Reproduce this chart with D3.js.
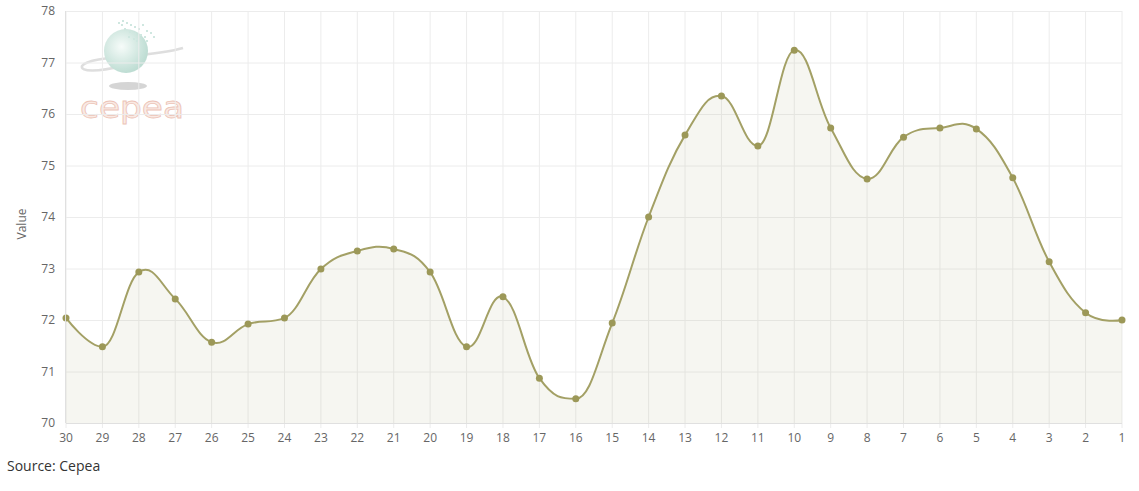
<!DOCTYPE html>
<html><head><meta charset="utf-8">
<script src="https://cdn.jsdelivr.net/npm/d3@7"></script>
<style>
html,body{margin:0;padding:0;background:#fff;}
svg{display:block;font-family:"Open Sans",sans-serif;}
</style></head>
<body>
<svg id="chart" width="1139" height="491"></svg>
<script>
const categories = ["30","29","28","27","26","25","24","23","22","21","20","19","18","17","16","15","14","13","12","11","10","9","8","7","6","5","4","3","2","1"];
const values = [72.04,71.48,72.93,72.41,71.57,71.92,72.04,72.99,73.34,73.38,72.93,71.48,72.45,70.87,70.47,71.94,74.0,75.59,76.35,75.38,77.24,75.73,74.74,75.55,75.73,75.71,74.76,73.13,72.14,72.0];
const yTicks = [70,71,72,73,74,75,76,77,78];
const yTitle = "Value";
const sourceText = "Source: Cepea";

const svg = d3.select("#chart");
const pL = 66, pR = 1122, pT = 11, pB = 423;
const x = d3.scalePoint().domain(categories).range([pL, pR]);
const y = d3.scaleLinear().domain([70, 78]).range([pB, pT]);

// logo
const logo = svg.append("g").attr("opacity", 0.75);
const defs = svg.append("defs");
const rg = defs.append("radialGradient").attr("id","glob").attr("cx","40%").attr("cy","40%").attr("r","60%");
rg.append("stop").attr("offset","0%").attr("stop-color","#f4fbf8");
rg.append("stop").attr("offset","100%").attr("stop-color","#a9d2c5");
logo.append("ellipse").attr("cx",128).attr("cy",86).attr("rx",19).attr("ry",4).attr("fill","#c8c8c8");
logo.append("path").attr("d","M183,48 C150,58 90,55 82,66 C80,72 98,72 122,66").attr("fill","none").attr("stroke","#d4d4d4").attr("stroke-width",2.5);
logo.append("circle").attr("cx",126).attr("cy",51).attr("r",22).attr("fill","url(#glob)");
const dots = [[122,20],[126,22],[130,24],[134,26],[138,28],[124,28],[129,31],[134,33],[140,34],[128,36],[133,38],[144,36],[121,24],[146,30],[142,24],[150,32],[153,36],[118,22],[136,40],[146,40]];
logo.selectAll("rect.d").data(dots).enter().append("rect").attr("x",d=>d[0]).attr("y",d=>d[1]).attr("width",2).attr("height",2).attr("fill","#bfe0d6");
logo.append("text").attr("x",80).attr("y",118).attr("font-size",30).attr("font-family","Verdana,DejaVu Sans,sans-serif")
  .attr("textLength",104).attr("lengthAdjust","spacingAndGlyphs")
  .attr("fill","#f8e4dc").attr("stroke","#e6b0a0").attr("stroke-width",0.8).text("cepea");

// grid
svg.append("g").selectAll("line").data(categories).enter().append("line")
  .attr("x1",d=>x(d)).attr("x2",d=>x(d)).attr("y1",pT).attr("y2",pB+5)
  .attr("stroke","#ececec").attr("stroke-width",1);
svg.append("g").selectAll("line").data(yTicks).enter().append("line")
  .attr("x1",pL).attr("x2",pR).attr("y1",d=>y(d)+0.5).attr("y2",d=>y(d)+0.5)
  .attr("stroke","#ececec").attr("stroke-width",1);

// Highcharts-style spline
function splinePath(pts){
  const sm = 1.5, den = sm + 1;
  const ctrl = pts.map((p,i)=>{
    if(i===0||i===pts.length-1) return null;
    const l = pts[i-1], n = pts[i+1];
    let lcx=(sm*p[0]+l[0])/den, lcy=(sm*p[1]+l[1])/den, rcx=(sm*p[0]+n[0])/den, rcy=(sm*p[1]+n[1])/den;
    if(rcx!==lcx){const c=((rcy-lcy)*(rcx-p[0]))/(rcx-lcx)+p[1]-rcy; lcy+=c; rcy+=c;}
    if(lcy>l[1]&&lcy>p[1]){lcy=Math.max(l[1],p[1]); rcy=2*p[1]-lcy;}
    return {lcx,lcy,rcx,rcy};
  });
  let d = "M"+pts[0][0]+","+pts[0][1];
  for(let i=1;i<pts.length;i++){
    const pc = ctrl[i-1], cc = ctrl[i];
    const c1x = pc?pc.rcx:pts[i-1][0], c1y = pc?pc.rcy:pts[i-1][1];
    const c2x = cc?cc.lcx:pts[i][0], c2y = cc?cc.lcy:pts[i][1];
    d += "C"+c1x+","+c1y+","+c2x+","+c2y+","+pts[i][0]+","+pts[i][1];
  }
  return d;
}
const pts = categories.map((c,i)=>[x(c), y(values[i])]);
const linePath = splinePath(pts);
svg.append("path").attr("d", linePath+"L"+x(categories[categories.length-1])+","+pB+"L"+x(categories[0])+","+pB+"Z")
  .attr("fill","#a8a878").attr("fill-opacity",0.1);
svg.append("path").attr("d", linePath).attr("fill","none").attr("stroke","#a3a065").attr("stroke-width",2);
svg.append("g").selectAll("circle").data(pts).enter().append("circle")
  .attr("cx",d=>d[0]).attr("cy",d=>d[1]).attr("r",3.5).attr("fill","#9c9858");

// axes lines
svg.append("line").attr("x1",pL-0.5).attr("x2",pL-0.5).attr("y1",pT).attr("y2",pB).attr("stroke","#e0e0e0");
svg.append("line").attr("x1",pL).attr("x2",pR).attr("y1",pB+0.5).attr("y2",pB+0.5).attr("stroke","#e0e0e0");

// y labels
svg.append("g").selectAll("text").data(yTicks).enter().append("text")
  .attr("x",55).attr("y",d=>y(d)+4).attr("text-anchor","end").attr("font-size",12).attr("fill","#666").text(d=>d);
// x labels
svg.append("g").selectAll("text").data(categories).enter().append("text")
  .attr("x",d=>x(d)).attr("y",442).attr("text-anchor","middle").attr("font-size",12).attr("fill","#666").text(d=>d);
svg.append("text").attr("transform","translate(26,224) rotate(-90)").attr("text-anchor","middle").attr("font-size",12).attr("fill","#666").text(yTitle);
svg.append("text").attr("x",7).attr("y",471).attr("font-size",14).attr("fill","#333").text(sourceText);
</script>
</body></html>
